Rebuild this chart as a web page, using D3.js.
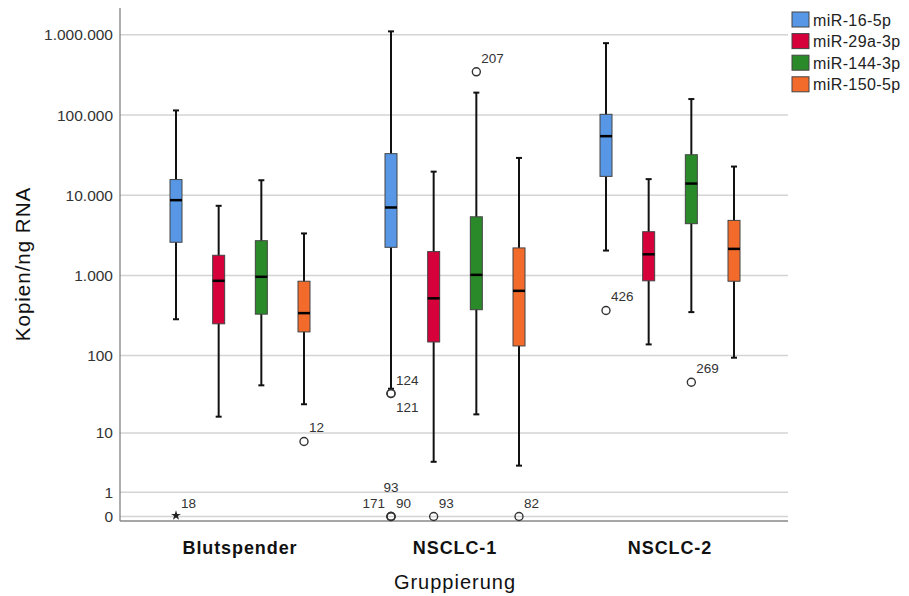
<!DOCTYPE html>
<html>
<head>
  <meta charset="utf-8">
  <title>Boxplot - miRNA Kopien/ng RNA nach Gruppierung</title>
  <script src="https://d3js.org/d3.v7.min.js"></script>
  <style>
    body { margin: 0; background: #fff; font-family: "Liberation Sans", Arial, sans-serif; }
    .grid line { stroke: #d4d4d4; stroke-width: 1.5; }
    .tick-label { font-size: 15.5px; fill: #333; }
    .out-label { font-size: 13.5px; fill: #333; }
  </style>
</head>
<body>
  <svg id="chart" width="909" height="596"></svg>

  <script>
    const groups = ["Blutspender", "NSCLC-1", "NSCLC-2"];
    const series = ["miR-16-5p", "miR-29a-3p", "miR-144-3p", "miR-150-5p"];
    const colors = ["#5797e5", "#d6003b", "#2a8a2a", "#f26b2b"];
    const yTicks = [0, 1, 10, 100, 1000, 10000, 100000, 1000000];

    // box statistics, one row per group, one value per series
    const whiskerHigh = [
      [114000, 7400, 15400, 3350],
      [1100000, 19700, 190000, 29200],
      [785000, 15900, 158000, 22800]
    ];
    const q3 = [
      [15700, 1790, 2720, 850],
      [33000, 1990, 5400, 2210],
      [102000, 3520, 32000, 4870]
    ];
    const median = [
      [8700, 860, 965, 340],
      [7050, 520, 1020, 645],
      [54500, 1840, 14000, 2150]
    ];
    const q1 = [
      [2600, 250, 330, 198],
      [2250, 148, 375, 132],
      [17200, 860, 4430, 850]
    ];
    const whiskerLow = [
      [285, 16.5, 42, 24],
      [38, 3.8, 17.7, 3.3],
      [2050, 138, 350, 94]
    ];

    // outliers: group index, series index, value, case label, extreme?
    const outliers = [
      { g: 0, s: 0, v: 0, label: "18", extreme: true },
      { g: 0, s: 3, v: 7.6, label: "12" },
      { g: 1, s: 0, v: 33, label: "124" },
      { g: 1, s: 0, v: 33, label: "121" },
      { g: 1, s: 0, v: 0, label: "171" },
      { g: 1, s: 0, v: 0, label: "90" },
      { g: 1, s: 0, v: 0, label: "93" },
      { g: 1, s: 1, v: 0, label: "93" },
      { g: 1, s: 2, v: 345000, label: "207" },
      { g: 1, s: 3, v: 0, label: "82" },
      { g: 2, s: 0, v: 367, label: "426" },
      { g: 2, s: 2, v: 46, label: "269" }
    ];
    // where each case label sits relative to its point
    const labelSide = ["r", "r", "r", "below", "left", "r", "above", "r", "r", "r", "r", "r"];

    const svg = d3.select("#chart");
    const plot = { left: 120, right: 788, top: 8, bottom: 521 };

    const x = d3.scaleBand().domain(groups).range([132.5, 777.5]);
    const xs = d3.scalePoint().domain(series).range([43.5, 171.5]);
    const y = d3.scaleSymlog().constant(1).domain([0, 1000000]).range([516.5, 34.7]);

    const de = d3.formatLocale({ decimal: ",", thousands: ".", grouping: [3], currency: ["", " €"] });
    const fmt = de.format(",d");

    // gridlines
    svg.append("g").attr("class", "grid")
      .selectAll("line")
      .data(yTicks)
      .join("line")
      .attr("x1", plot.left).attr("x2", plot.right)
      .attr("y1", d => y(d)).attr("y2", d => y(d));

    // axes lines
    svg.append("line")
      .attr("x1", plot.left).attr("x2", plot.left)
      .attr("y1", plot.top).attr("y2", plot.bottom)
      .attr("stroke", "#777").attr("stroke-width", 1.2);
    svg.append("line")
      .attr("x1", plot.left).attr("x2", plot.right)
      .attr("y1", plot.bottom).attr("y2", plot.bottom)
      .attr("stroke", "#888").attr("stroke-width", 1.5);

    // y tick labels
    svg.append("g")
      .selectAll("text")
      .data(yTicks)
      .join("text")
      .attr("class", "tick-label")
      .attr("x", plot.left - 7)
      .attr("y", d => y(d))
      .attr("dy", "0.36em")
      .attr("text-anchor", "end")
      .text(d => fmt(d));

    // x tick labels
    svg.append("g")
      .selectAll("text")
      .data(groups)
      .join("text")
      .attr("x", d => x(d) + x.bandwidth() / 2)
      .attr("y", 554)
      .attr("text-anchor", "middle")
      .attr("font-size", "18px")
      .attr("font-weight", "bold")
      .attr("letter-spacing", "0.9px")
      .attr("fill", "#111")
      .text(d => d);

    // axis titles
    svg.append("text")
      .attr("x", 455).attr("y", 589)
      .attr("text-anchor", "middle")
      .attr("font-size", "20px")
      .attr("letter-spacing", "1px")
      .attr("fill", "#111")
      .text("Gruppierung");

    svg.append("text")
      .attr("transform", "translate(30,264) rotate(-90)")
      .attr("text-anchor", "middle")
      .attr("font-size", "20.5px")
      .attr("letter-spacing", "1px")
      .attr("fill", "#111")
      .text("Kopien/ng RNA");

    // boxes
    const boxW = 12, capW = 6;
    const boxes = [];
    groups.forEach((g, gi) => {
      series.forEach((s, si) => {
        boxes.push({
          cx: x(g) + xs(s), color: colors[si],
          lo: whiskerLow[gi][si], q1: q1[gi][si], med: median[gi][si],
          q3: q3[gi][si], hi: whiskerHigh[gi][si]
        });
      });
    });

    const box = svg.append("g")
      .selectAll("g")
      .data(boxes)
      .join("g");

    box.append("line")
      .attr("x1", d => d.cx).attr("x2", d => d.cx)
      .attr("y1", d => y(d.hi)).attr("y2", d => y(d.lo))
      .attr("stroke", "#111").attr("stroke-width", 2);
    box.append("line")
      .attr("x1", d => d.cx - capW / 2).attr("x2", d => d.cx + capW / 2)
      .attr("y1", d => y(d.hi)).attr("y2", d => y(d.hi))
      .attr("stroke", "#111").attr("stroke-width", 2);
    box.append("line")
      .attr("x1", d => d.cx - capW / 2).attr("x2", d => d.cx + capW / 2)
      .attr("y1", d => y(d.lo)).attr("y2", d => y(d.lo))
      .attr("stroke", "#111").attr("stroke-width", 2);
    box.append("rect")
      .attr("x", d => d.cx - boxW / 2)
      .attr("width", boxW)
      .attr("y", d => y(d.q3))
      .attr("height", d => y(d.q1) - y(d.q3))
      .attr("fill", d => d.color)
      .attr("stroke", "#444").attr("stroke-width", 1);
    box.append("line")
      .attr("x1", d => d.cx - boxW / 2).attr("x2", d => d.cx + boxW / 2)
      .attr("y1", d => y(d.med)).attr("y2", d => y(d.med))
      .attr("stroke", "#000").attr("stroke-width", 2.5);

    // outliers
    const pts = outliers.map((o, i) => ({
      ...o, side: labelSide[i],
      cx: x(groups[o.g]) + xs(series[o.s]), cy: y(o.v)
    }));

    const og = svg.append("g");
    og.selectAll("circle")
      .data(pts.filter(d => !d.extreme))
      .join("circle")
      .attr("cx", d => d.cx).attr("cy", d => d.cy)
      .attr("r", 4)
      .attr("fill", "none")
      .attr("stroke", "#333").attr("stroke-width", 1.4);
    og.selectAll("path")
      .data(pts.filter(d => d.extreme))
      .join("path")
      .attr("transform", d => `translate(${d.cx},${d.cy - 1})`)
      .attr("d", d3.symbol(d3.symbolStar, 30))
      .attr("fill", "#222");

    og.selectAll("text")
      .data(pts)
      .join("text")
      .attr("class", "out-label")
      .attr("x", d => d.side === "left" ? d.cx - 6 : d.side === "above" ? d.cx : d.cx + 5)
      .attr("y", d => d.side === "below" ? d.cy + 18 : d.side === "above" ? d.cy - 25 : d.cy - 9)
      .attr("text-anchor", d => d.side === "left" ? "end" : d.side === "above" ? "middle" : "start")
      .text(d => d.label);

    // legend
    const leg = svg.append("g")
      .selectAll("g")
      .data(series)
      .join("g")
      .attr("transform", (d, i) => `translate(792,${12 + i * 21.6})`);
    leg.append("rect")
      .attr("width", 17).attr("height", 15)
      .attr("fill", (d, i) => colors[i])
      .attr("stroke", "#444").attr("stroke-width", 1);
    leg.append("text")
      .attr("x", 21).attr("y", 13.5)
      .attr("font-size", "16px")
      .attr("letter-spacing", "0.4px")
      .attr("fill", "#222")
      .text(d => d);
  </script>
</body>
</html>
